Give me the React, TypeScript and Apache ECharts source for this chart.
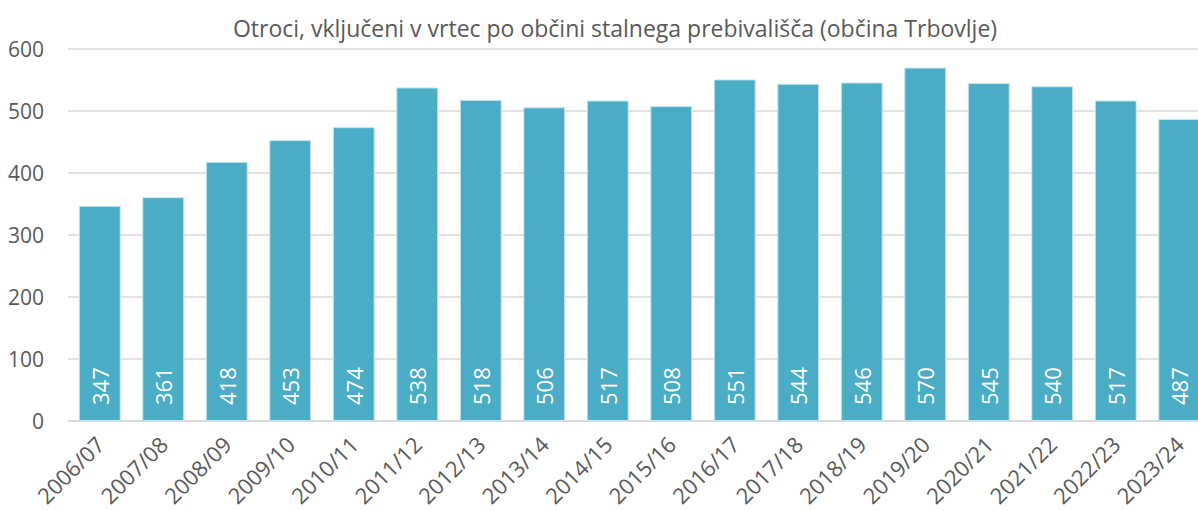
import React, { useEffect, useRef } from "react";
import * as echarts from "echarts";

const categories = [
  "2006/07", "2007/08", "2008/09", "2009/10", "2010/11", "2011/12",
  "2012/13", "2013/14", "2014/15", "2015/16", "2016/17", "2017/18",
  "2018/19", "2019/20", "2020/21", "2021/22", "2022/23", "2023/24",
];
const values = [347, 361, 418, 453, 474, 538, 518, 506, 517, 508, 551, 544, 546, 570, 545, 540, 517, 487];
const titleText = "Otroci, vključeni v vrtec po občini stalnega prebivališča (občina Trbovlje)";

export default function App() {
  const ref = useRef<HTMLDivElement>(null);
  useEffect(() => {
    document.body.style.margin = "0";
    document.body.style.overflow = "hidden";
    const chart = echarts.init(ref.current!, null, { renderer: "svg" });
    const font = "'Open Sans', 'Noto Sans', sans-serif";
    chart.setOption({
      animation: false,
      textStyle: { fontFamily: font },
      title: {
        text: titleText,
        left: 610,
        top: 11,
        textAlign: "center",
        textStyle: { fontFamily: font, fontSize: 23, fontWeight: "normal", color: "#595959" },
      },
      grid: { left: 68, top: 49, width: 1143, height: 372, containLabel: false, outerBoundsMode: "none" },
      xAxis: {
        type: "category",
        data: categories,
        axisLine: { show: true, lineStyle: { color: "#d9d9d9", width: 1.5 } },
        axisTick: { show: false },
        axisLabel: { rotate: 45, color: "#595959", fontSize: 22, fontFamily: font, margin: 19, interval: 0 },
      },
      yAxis: {
        type: "value",
        min: 0,
        max: 600,
        interval: 100,
        axisLine: { show: false },
        axisTick: { show: false },
        splitLine: { lineStyle: { color: "#d9d9d9", width: 1.5 } },
        axisLabel: { color: "#595959", fontSize: 21, fontFamily: font, margin: 24 },
      },
      series: [
        {
          type: "bar",
          data: values,
          barCategoryGap: "34%",
          itemStyle: { color: "#4bacc6", borderColor: "#c8e6ef", borderWidth: 1 },
          label: {
            show: true,
            position: "insideBottom",
            rotate: 90,
            align: "left",
            verticalAlign: "middle",
            distance: 16,
            color: "#ffffff",
            fontSize: 22,
            fontFamily: font,
          },
        },
      ],
    });
    return () => chart.dispose();
  }, []);
  return <div ref={ref} style={{ position: "absolute", left: 0, top: 0, width: 1198, height: 511 }} />;
}
